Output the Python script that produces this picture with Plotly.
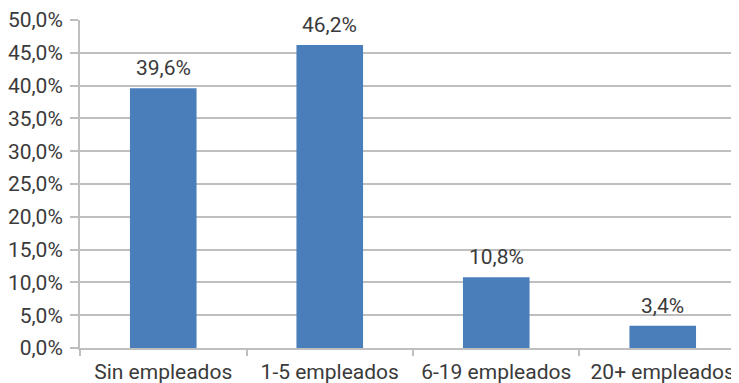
import plotly.graph_objects as go

categories = ["Sin empleados", "1-5 empleados", "6-19 empleados", "20+ empleados"]
values = [39.6, 46.2, 10.8, 3.4]
y_ticks = [0, 5, 10, 15, 20, 25, 30, 35, 40, 45, 50]
y_tick_labels = [f"{v:.1f}%".replace(".", ",") for v in y_ticks]
value_labels = [f"{v:.1f}%".replace(".", ",") for v in values]

TEXT = "#3a3a3a"
GRID = "#bfbfbf"
FS = 21

fig = go.Figure()
fig.add_trace(go.Bar(
    x=categories, y=values, width=0.4,
    marker=dict(color="#4A7EBB", line=dict(width=0)),
    hoverinfo="skip",
))

for cat, v, lab in zip(categories, values, value_labels):
    fig.add_annotation(
        x=cat, y=v, text=lab, showarrow=False,
        yanchor="bottom", yshift=6,
        font=dict(family="Roboto", size=FS, color=TEXT),
    )

# the page body has an 8px margin, so the plot area is placed 8px up/left
fig.update_layout(
    width=739, height=383,
    margin=dict(l=72, r=8, t=12, b=43),
    paper_bgcolor="white", plot_bgcolor="white",
    showlegend=False,
    font=dict(family="Roboto", size=FS, color=TEXT),
    xaxis=dict(
        range=[-0.5, 3.458], automargin=False,
        showgrid=False, showline=True, linecolor=GRID, linewidth=2,
        ticks="outside", tickson="boundaries", ticklen=6, tickcolor=GRID, tickwidth=2,
        ticklabelstandoff=4,
        tickfont=dict(size=FS, color=TEXT),
    ),
    yaxis=dict(
        range=[0, 50], automargin=False,
        tickvals=y_ticks, ticktext=y_tick_labels,
        showgrid=True, gridcolor=GRID, gridwidth=2,
        showline=True, linecolor=GRID, linewidth=2,
        ticks="outside", ticklen=8, tickcolor=GRID, tickwidth=2,
        ticklabelstandoff=3,
        zeroline=False,
        tickfont=dict(size=FS, color=TEXT),
    ),
)

fig.write_html("out.html")
